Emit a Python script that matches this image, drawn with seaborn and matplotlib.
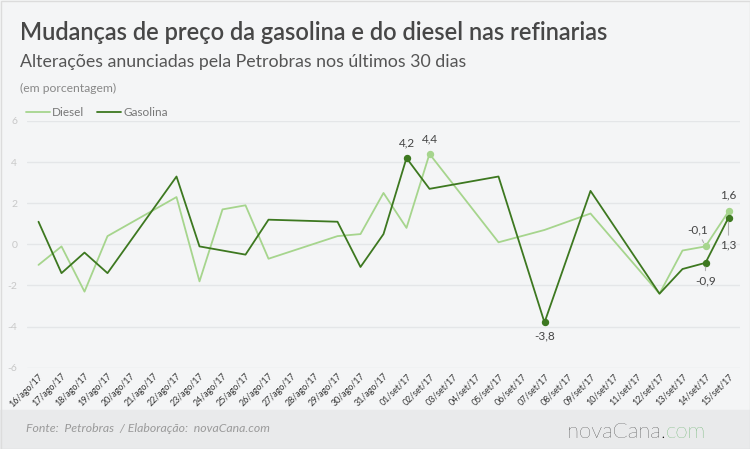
import numpy as np
import pandas as pd
import matplotlib
matplotlib.use("Agg")
import matplotlib.pyplot as plt
import seaborn as sns
from matplotlib.patches import Rectangle
from matplotlib.lines import Line2D

# Data (variação em %, NaN = sem alteração anunciada)
datas = [f"{d}/ago/17" for d in range(16, 32)] + [f"{d:02d}/set/17" for d in range(1, 16)]
nan = np.nan
diesel = [-1.0, -0.1, -2.3, 0.4, nan, nan, 2.3, -1.8, 1.7, 1.9, -0.7, nan, nan, 0.4, 0.5, 2.5,
          0.8, 4.4, nan, nan, 0.1, nan, 0.7, nan, 1.5, nan, nan, -2.4, -0.3, -0.1, 1.6]
gasolina = [1.1, -1.4, -0.4, -1.4, nan, nan, 3.3, -0.1, nan, -0.5, 1.2, nan, nan, 1.1, -1.1, 0.5,
            4.2, 2.7, nan, nan, 3.3, nan, -3.8, nan, 2.6, nan, nan, -2.4, -1.2, -0.9, 1.3]
yticks = [-6, -4, -2, 0, 2, 4, 6]

cor_diesel = "#a6d58d"
cor_gasolina = "#3d7820"
bg = "#f4f5f6"

df = pd.DataFrame({"idx": range(len(datas)), "Diesel": diesel, "Gasolina": gasolina})
long = df.melt(id_vars="idx", var_name="serie", value_name="valor").dropna()

sns.set_style("white")
plt.rcParams["font.family"] = ["Lato", "DejaVu Sans"]

fig = plt.figure(figsize=(7.5, 4.49), dpi=100)
fig.patch.set_facecolor(bg)
ax = fig.add_axes([27 / 750, 1 - 367.7 / 449, (740 - 27) / 750, (367.7 - 121) / 449])
ax.set_facecolor(bg)

sns.lineplot(data=long, x="idx", y="valor", hue="serie", palette={"Diesel": cor_diesel, "Gasolina": cor_gasolina},
             linewidth=1.3, legend=False, ax=ax, zorder=3)

ax.set_xlim(-0.5, len(datas) - 0.5)
ax.set_ylim(-6, 6)
ax.set_yticks(yticks)
ax.set_yticklabels([str(v) for v in yticks])
ax.set_xticks(range(len(datas)))
ax.set_xticklabels(datas, rotation=45, ha="right", rotation_mode="anchor", fontsize=6.4, color="#333333")
ax.tick_params(axis="y", length=0, pad=7, labelsize=7.5, labelcolor="#c8c8c8")
ax.tick_params(axis="x", length=0, pad=3)
ax.grid(axis="y", color="#e4e6e8", linewidth=1)
ax.set_axisbelow(True)
for s in ax.spines.values():
    s.set_visible(False)
ax.set_xlabel("")
ax.set_ylabel("")

# destaques
destaques = [
    (16, gasolina[16], cor_gasolina, "4,2", (0, 7), "bottom", False),
    (17, diesel[17], cor_diesel, "4,4", (0, 7), "bottom", False),
    (22, gasolina[22], cor_gasolina, "-3,8", (0, -6), "top", False),
    (29, diesel[29], cor_diesel, "-0,1", (-6, 8), "bottom", True),
    (29, gasolina[29], cor_gasolina, "-0,9", (0, -9), "top", True),
    (30, diesel[30], cor_diesel, "1,6", (0, 8), "bottom", False),
    (30, gasolina[30], cor_gasolina, "1,3", (0, -16), "top", True),
]
for i, v, c, txt, off, va, leader in destaques:
    ax.plot(i, v, "o", color=c, markersize=4.3, zorder=4)
    arrow = dict(arrowstyle="-", color="#b0b0b0", lw=0.8, shrinkA=1, shrinkB=3) if leader else None
    ax.annotate(txt, (i, v), xytext=off, textcoords="offset points", ha="center", va=va,
                fontsize=8.5, color="#444444", arrowprops=arrow, zorder=5)

# titulos
fig.text(20 / 750, 1 - 32 / 449, "Mudanças de preço da gasolina e do diesel nas refinarias",
         fontsize=17, fontweight="semibold", color="#474747", va="center", ha="left")
fig.text(20 / 750, 1 - 62 / 449, "Alterações anunciadas pela Petrobras nos últimos 30 dias",
         fontsize=12.8, color="#555555", va="center", ha="left")
fig.text(20 / 750, 1 - 88 / 449, "(em porcentagem)", fontsize=8.7, color="#888888", va="center", ha="left")

# legenda
handles = [Line2D([], [], color=cor_diesel, lw=1.3), Line2D([], [], color=cor_gasolina, lw=1.3)]
leg = fig.legend(handles, ["Diesel", "Gasolina"], loc="center left", bbox_to_anchor=(26 / 750, 1 - 113 / 449),
                 ncol=2, frameon=False, fontsize=8.5, handlelength=2.0, handletextpad=0.2,
                 columnspacing=1.1, borderaxespad=0, borderpad=0)
for t in leg.get_texts():
    t.set_color("#777777")

# rodape
fig.add_artist(Rectangle((0, 0), 1, 39 / 449, transform=fig.transFigure, color="#e9eaeb", zorder=0))
fig.text(26 / 750, 1 - 429 / 449, "Fonte:  Petrobras  / Elaboração:  novaCana.com", fontsize=8.8,
         style="italic", color="#9a9a9a", va="center", ha="left")
logo = fig.text(567 / 750, 1 - 432 / 449, "novaCana.", fontsize=16, fontweight="light",
                color="#000000", va="center", ha="left")
fig.canvas.draw()
bb = logo.get_window_extent().transformed(fig.transFigure.inverted())
fig.text(bb.x1, 1 - 432 / 449, "com", fontsize=16, fontweight="light", color="#2f9a35", va="center", ha="left")

fig.add_artist(Rectangle((0.5 / 750, 0.5 / 449), 749 / 750, 448 / 449, transform=fig.transFigure,
                         fill=False, edgecolor="#dcdcdc", lw=1, zorder=10))

fig.savefig("out.png", dpi=100, facecolor=fig.get_facecolor())
